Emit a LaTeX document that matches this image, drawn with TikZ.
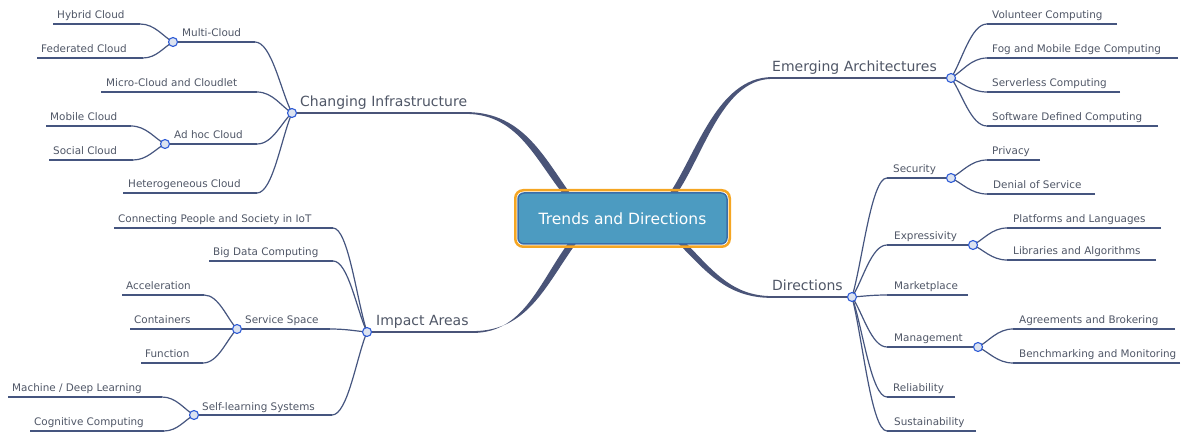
\documentclass[tikz,border=0pt]{standalone}
\usepackage{fontspec}
\setmainfont{DejaVu Sans}
\usetikzlibrary{calc}
\definecolor{txt}{HTML}{4F5666}
\definecolor{ln}{HTML}{45557F}
\definecolor{mainln}{HTML}{4A5478}
\definecolor{dotfill}{HTML}{DCE3F0}
\definecolor{dotdraw}{HTML}{2E5BD6}
\definecolor{boxfill}{HTML}{4C9BC1}
\definecolor{boxline}{HTML}{3A6DA8}
\definecolor{boxorange}{HTML}{F5A623}
\newcommand\lk[2]{\draw[sub] (#1) .. controls ($(#1)!0.45!(#1-|#2)$) and ($(#2)!0.3!(#1)$) .. (#2);}
\begin{document}
\begin{tikzpicture}[x=1pt,y=-1pt,
 sub/.style={draw=ln,line width=1.2pt},
 mainline/.style={draw=mainln,line width=1.8pt},
 taper/.style={fill=mainln},
 dot/.style={circle,draw=dotdraw,fill=dotfill,line width=1.1pt,inner sep=0pt,minimum size=9pt},
 lab/.style={anchor=base west,inner sep=0pt,text=txt,font=\fontsize{10.4}{12}\selectfont},
 big/.style={anchor=base west,inner sep=0pt,text=txt,font=\fontsize{14}{16}\selectfont},
 rootbox/.style={rounded corners=6pt,draw=boxline,fill=boxfill,line width=1.5pt,minimum width=209pt,minimum height=51pt,text=white,font=\fontsize{15.5}{18}\selectfont},
]
\useasboundingbox (0,0) rectangle (1189,435);
% ---------- hub coordinates ----------
\coordinate (ci) at (292,113);   \coordinate (ciE) at (470,113);
\coordinate (ea) at (951,78);    \coordinate (eaE) at (768,78);
\coordinate (ia) at (367,332);   \coordinate (iaE) at (478,332);
\coordinate (di) at (852,297);   \coordinate (diE) at (768,297);
% Changing Infrastructure
\coordinate (mc) at (173,42);  \coordinate (mcR) at (255,42);
\coordinate (hybL) at (53,24); \coordinate (hybR) at (140,24);
\coordinate (fedL) at (37,58); \coordinate (fedR) at (143,58);
\coordinate (micL) at (101,92); \coordinate (micR) at (257,92);
\coordinate (ah) at (165,144); \coordinate (ahR) at (257,144);
\coordinate (mobL) at (46,126); \coordinate (mobR) at (131,126);
\coordinate (socL) at (49,160); \coordinate (socR) at (133,160);
\coordinate (hetL) at (123,193); \coordinate (hetR) at (257,193);
% Impact Areas
\coordinate (conL) at (114,228); \coordinate (conR) at (333,228);
\coordinate (bigL) at (209,261); \coordinate (bigR) at (333,261);
\coordinate (ss) at (237,329);   \coordinate (ssR) at (330,329);
\coordinate (accL) at (122,295); \coordinate (accR) at (204,295);
\coordinate (cntL) at (130,329); \coordinate (cntR) at (203,329);
\coordinate (funL) at (141,363); \coordinate (funR) at (203,363);
\coordinate (sl) at (194,415);   \coordinate (slR) at (332,415);
\coordinate (mlL) at (8,397);    \coordinate (mlR) at (162,397);
\coordinate (cogL) at (30,431);  \coordinate (cogR) at (164,431);
% Emerging Architectures
\coordinate (volL) at (987,24);  \coordinate (volR) at (1117,24);
\coordinate (fogL) at (987,58);  \coordinate (fogR) at (1178,58);
\coordinate (srvL) at (987,92);  \coordinate (srvR) at (1120,92);
\coordinate (sdcL) at (987,126); \coordinate (sdcR) at (1158,126);
% Directions
\coordinate (secL) at (887,178); \coordinate (sec) at (951,178);
\coordinate (priL) at (987,160); \coordinate (priR) at (1040,160);
\coordinate (dosL) at (987,194); \coordinate (dosR) at (1095,194);
\coordinate (expL) at (887,245); \coordinate (exp) at (973,245);
\coordinate (plaL) at (1007,228); \coordinate (plaR) at (1161,228);
\coordinate (libL) at (1007,260); \coordinate (libR) at (1156,260);
\coordinate (mktL) at (887,295); \coordinate (mktR) at (968,295);
\coordinate (mgtL) at (887,347); \coordinate (mgt) at (978,347);
\coordinate (agrL) at (1013,329); \coordinate (agrR) at (1175,329);
\coordinate (benL) at (1013,363); \coordinate (benR) at (1180,363);
\coordinate (relL) at (887,397); \coordinate (relR) at (955,397);
\coordinate (susL) at (887,431); \coordinate (susR) at (976,431);

% ---------- main tapered branches ----------
\fill[taper] (466,112.1) .. controls (525,112.1) and (545,160) .. (575,200) -- (568,200) .. controls (537,164) and (520,113.9) .. (466,113.9) -- cycle;
\fill[taper] (665,200) .. controls (695,160) and (715,77.1) .. (772,77.1) -- (772,78.9) .. controls (720,78.9) and (702,163) .. (672,200) -- cycle;
\fill[taper] (572,238) .. controls (540,280) and (525,332.9) .. (473,332.9) -- (473,331.1) .. controls (530,331.1) and (547,282) .. (580,238) -- cycle;
\fill[taper] (673,238) .. controls (705,270) and (725,297.9) .. (772,297.9) -- (772,296.1) .. controls (730,296.1) and (711,268) .. (681,238) -- cycle;
\draw[mainline] (ci) -- (ciE);
\draw[mainline] (eaE) -- (ea);
\draw[mainline] (ia) -- (iaE);
\draw[mainline] (diE) -- (di);

% ---------- sub branches ----------
\draw[sub] (hybL) -- (hybR); \lk{hybR}{mc}
\draw[sub] (fedL) -- (fedR); \lk{fedR}{mc}
\draw[sub] (mc) -- (mcR); \lk{mcR}{ci}
\draw[sub] (micL) -- (micR); \lk{micR}{ci}
\draw[sub] (mobL) -- (mobR); \lk{mobR}{ah}
\draw[sub] (socL) -- (socR); \lk{socR}{ah}
\draw[sub] (ah) -- (ahR); \lk{ahR}{ci}
\draw[sub] (hetL) -- (hetR); \lk{hetR}{ci}

\draw[sub] (conL) -- (conR); \lk{conR}{ia}
\draw[sub] (bigL) -- (bigR); \lk{bigR}{ia}
\draw[sub] (accL) -- (accR); \lk{accR}{ss}
\draw[sub] (cntL) -- (cntR); \lk{cntR}{ss}
\draw[sub] (funL) -- (funR); \lk{funR}{ss}
\draw[sub] (ss) -- (ssR); \lk{ssR}{ia}
\draw[sub] (mlL) -- (mlR); \lk{mlR}{sl}
\draw[sub] (cogL) -- (cogR); \lk{cogR}{sl}
\draw[sub] (sl) -- (slR); \lk{slR}{ia}

\draw[sub] (volR) -- (volL); \lk{volL}{ea}
\draw[sub] (fogR) -- (fogL); \lk{fogL}{ea}
\draw[sub] (srvR) -- (srvL); \lk{srvL}{ea}
\draw[sub] (sdcR) -- (sdcL); \lk{sdcL}{ea}

\draw[sub] (sec) -- (secL); \lk{secL}{di}
\draw[sub] (priR) -- (priL); \lk{priL}{sec}
\draw[sub] (dosR) -- (dosL); \lk{dosL}{sec}
\draw[sub] (exp) -- (expL); \lk{expL}{di}
\draw[sub] (plaR) -- (plaL); \lk{plaL}{exp}
\draw[sub] (libR) -- (libL); \lk{libL}{exp}
\draw[sub] (mktR) -- (mktL); \lk{mktL}{di}
\draw[sub] (mgt) -- (mgtL); \lk{mgtL}{di}
\draw[sub] (agrR) -- (agrL); \lk{agrL}{mgt}
\draw[sub] (benR) -- (benL); \lk{benL}{mgt}
\draw[sub] (relR) -- (relL); \lk{relL}{di}
\draw[sub] (susR) -- (susL); \lk{susL}{di}

% ---------- root ----------
\node[rootbox] (root) at (622.5,218.5) {Trends and Directions};
\draw[boxorange,line width=2.5pt,rounded corners=8pt] ($(root.south west)+(-2,2)$) rectangle ($(root.north east)+(2,-2)$);

% ---------- dots ----------
\foreach \d in {ci,ea,ia,di,mc,ah,ss,sl,sec,exp,mgt}{\node[dot] (\d Dot) at (\d) {};}

% ---------- labels ----------
\node[big] (tCI) at ($(ci)+(8,-6)$) {Changing Infrastructure};
\node[big] (tEA) at ($(eaE)+(4,-6)$) {Emerging Architectures};
\node[big] (tIA) at ($(ia)+(9,-6)$) {Impact Areas};
\node[big] (tDI) at ($(diE)+(4,-6)$) {Directions};

\node[lab] (tMC) at ($(mc)+(9,-5)$) {Multi-Cloud};
\node[lab] (tHyb) at ($(hybL)+(4,-5)$) {Hybrid Cloud};
\node[lab] (tFed) at ($(fedL)+(4,-5)$) {Federated Cloud};
\node[lab] (tMic) at ($(micL)+(5,-5)$) {Micro-Cloud and Cloudlet};
\node[lab] (tAH) at ($(ah)+(9,-5)$) {Ad hoc Cloud};
\node[lab] (tMob) at ($(mobL)+(4,-5)$) {Mobile Cloud};
\node[lab] (tSoc) at ($(socL)+(4,-5)$) {Social Cloud};
\node[lab] (tHet) at ($(hetL)+(5,-5)$) {Heterogeneous Cloud};

\node[lab] (tCon) at ($(conL)+(4,-5)$) {Connecting People and Society in IoT};
\node[lab] (tBig) at ($(bigL)+(4,-5)$) {Big Data Computing};
\node[lab] (tSS) at ($(ss)+(8,-5)$) {Service Space};
\node[lab] (tAcc) at ($(accL)+(4,-5)$) {Acceleration};
\node[lab] (tCnt) at ($(cntL)+(4,-5)$) {Containers};
\node[lab] (tFun) at ($(funL)+(4,-5)$) {Function};
\node[lab] (tSL) at ($(sl)+(8,-5)$) {Self-learning Systems};
\node[lab] (tML) at ($(mlL)+(4,-5)$) {Machine / Deep Learning};
\node[lab] (tCog) at ($(cogL)+(4,-5)$) {Cognitive Computing};

\node[lab] (tVol) at ($(volL)+(5,-5)$) {Volunteer Computing};
\node[lab] (tFog) at ($(fogL)+(5,-5)$) {Fog and Mobile Edge Computing};
\node[lab] (tSrv) at ($(srvL)+(5,-5)$) {Serverless Computing};
\node[lab] (tSdc) at ($(sdcL)+(5,-5)$) {Software Defined Computing};

\node[lab] (tSec) at ($(secL)+(6,-5)$) {Security};
\node[lab] (tPri) at ($(priL)+(5,-5)$) {Privacy};
\node[lab] (tDos) at ($(dosL)+(6,-5)$) {Denial of Service};
\node[lab] (tExp) at ($(expL)+(7,-5)$) {Expressivity};
\node[lab] (tPla) at ($(plaL)+(6,-5)$) {Platforms and Languages};
\node[lab] (tLib) at ($(libL)+(6,-5)$) {Libraries and Algorithms};
\node[lab] (tMkt) at ($(mktL)+(7,-5)$) {Marketplace};
\node[lab] (tMgt) at ($(mgtL)+(7,-5)$) {Management};
\node[lab] (tAgr) at ($(agrL)+(6,-5)$) {Agreements and Brokering};
\node[lab] (tBen) at ($(benL)+(6,-5)$) {Benchmarking and Monitoring};
\node[lab] (tRel) at ($(relL)+(6,-5)$) {Reliability};
\node[lab] (tSus) at ($(susL)+(7,-5)$) {Sustainability};
\end{tikzpicture}
\end{document}
